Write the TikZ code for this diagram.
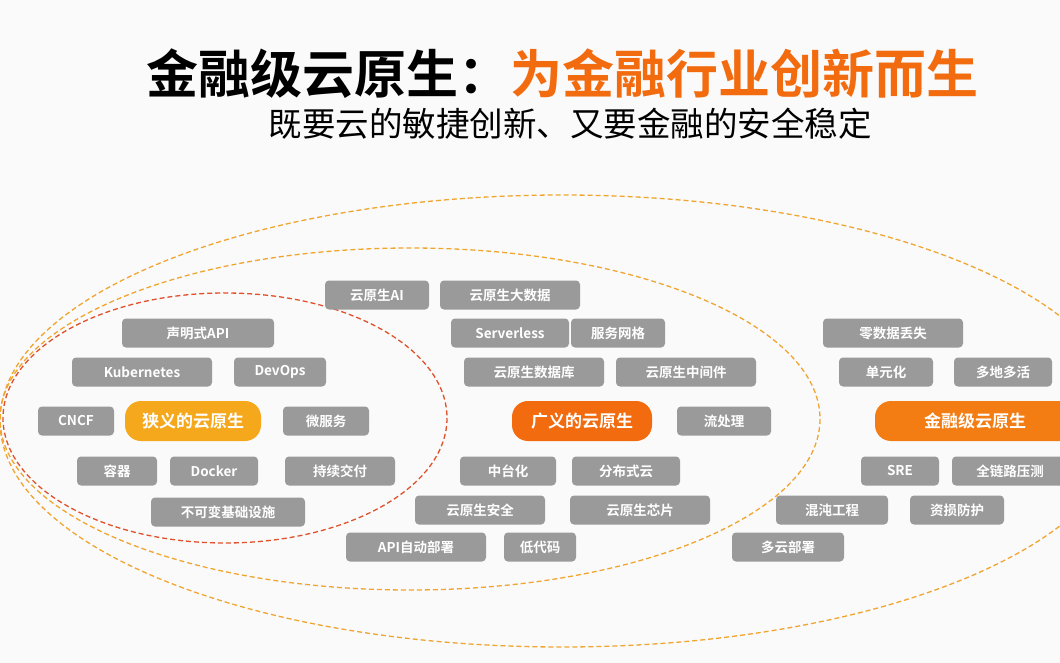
\documentclass[tikz,border=0pt]{standalone}
\usepackage{fontspec}
\setmainfont{Noto Sans CJK SC}
\newfontfamily\cjkb{Noto Sans CJK SC Bold}
\definecolor{tagbg}{HTML}{9A9A9A}
\definecolor{hotorange}{HTML}{F26B0F}
\definecolor{hotyellow}{HTML}{F5A81C}
\definecolor{ringred}{HTML}{E0502A}
\definecolor{ringgold}{HTML}{F0A530}
\tikzset{
  tag/.style={fill=tagbg,rounded corners=4pt,text=white,font=\cjkb\fontsize{13.5}{14}\selectfont,
    minimum height=29pt,inner xsep=2pt},
  hub/.style={rounded corners=16pt,text=white,font=\cjkb\fontsize{17}{19}\selectfont,minimum height=40pt},
  ring/.style={dashed,line width=1.3pt,dash pattern=on 5pt off 3pt}
}
\newcommand{\tagat}[4]{\node[tag,minimum width=#3pt] (#1) at (#2) {#4};}
\begin{document}
\begin{tikzpicture}[x=1pt,y=-1pt]
\useasboundingbox[fill=white!96!gray] (0,0) rectangle (1060,663);
% title
\node[anchor=west,font=\cjkb\fontsize{52}{56}\selectfont] (title) at (143,74)
  {金融级云原生：\textcolor{hotorange}{为金融行业创新而生}};
\node[font=\fontsize{33.5}{36}\selectfont] (subtitle) at (570,124) {既要云的敏捷创新、又要金融的安全稳定};
% rings
\draw[ring,ringgold] (562,421) ellipse [x radius=562,y radius=226];
\draw[ring,ringgold] (410,419) ellipse [x radius=410,y radius=171];
\draw[ring,ringred] (225,418) ellipse [x radius=222,y radius=125];
% narrow
\tagat{decl}{198,333}{152}{声明式API}
\tagat{kube}{142,372}{140}{Kubernetes}
\tagat{devops}{280,372}{92}{DevOps}
\tagat{cncf}{76,421}{76}{CNCF}
\tagat{micro}{326,421}{86}{微服务}
\tagat{cont}{117,471}{80}{容器}
\tagat{docker}{214,471}{88}{Docker}
\tagat{cd}{340,471}{110}{持续交付}
\tagat{immut}{228,512}{154}{不可变基础设施}
\node[hub,fill=hotyellow,minimum width=136pt] (narrow) at (193,421) {狭义的云原生};
% broad
\tagat{ai}{377,295}{104}{云原生AI}
\tagat{bigdata}{510,295}{140}{云原生大数据}
\tagat{svless}{510,333}{118}{Serverless}
\tagat{mesh}{618,333}{94}{服务网格}
\tagat{db}{534,372}{140}{云原生数据库}
\tagat{mw}{686,372}{140}{云原生中间件}
\tagat{stream}{724,421}{94}{流处理}
\tagat{mid}{508,471}{96}{中台化}
\tagat{dcloud}{626,471}{108}{分布式云}
\tagat{sec}{480,510}{130}{云原生安全}
\tagat{chip}{640,510}{140}{云原生芯片}
\tagat{apidep}{416,547}{140}{API自动部署}
\tagat{lowcode}{540,547}{72}{低代码}
\node[hub,fill=hotorange,minimum width=140pt] (broad) at (582,421) {广义的云原生};
% financial
\tagat{zero}{893,333}{140}{零数据丢失}
\tagat{unit}{886,372}{94}{单元化}
\tagat{multi}{1003,372}{98}{多地多活}
\tagat{sre}{900,471}{78}{SRE}
\tagat{fulltest}{1010,471}{116}{全链路压测}
\tagat{chaos}{832,510}{112}{混沌工程}
\tagat{loss}{957,510}{94}{资损防护}
\tagat{mcloud}{788,547}{112}{多云部署}
\node[hub,fill=hotorange!70!hotyellow,minimum width=200pt] (fin) at (975,421) {金融级云原生};
\end{tikzpicture}
\end{document}
